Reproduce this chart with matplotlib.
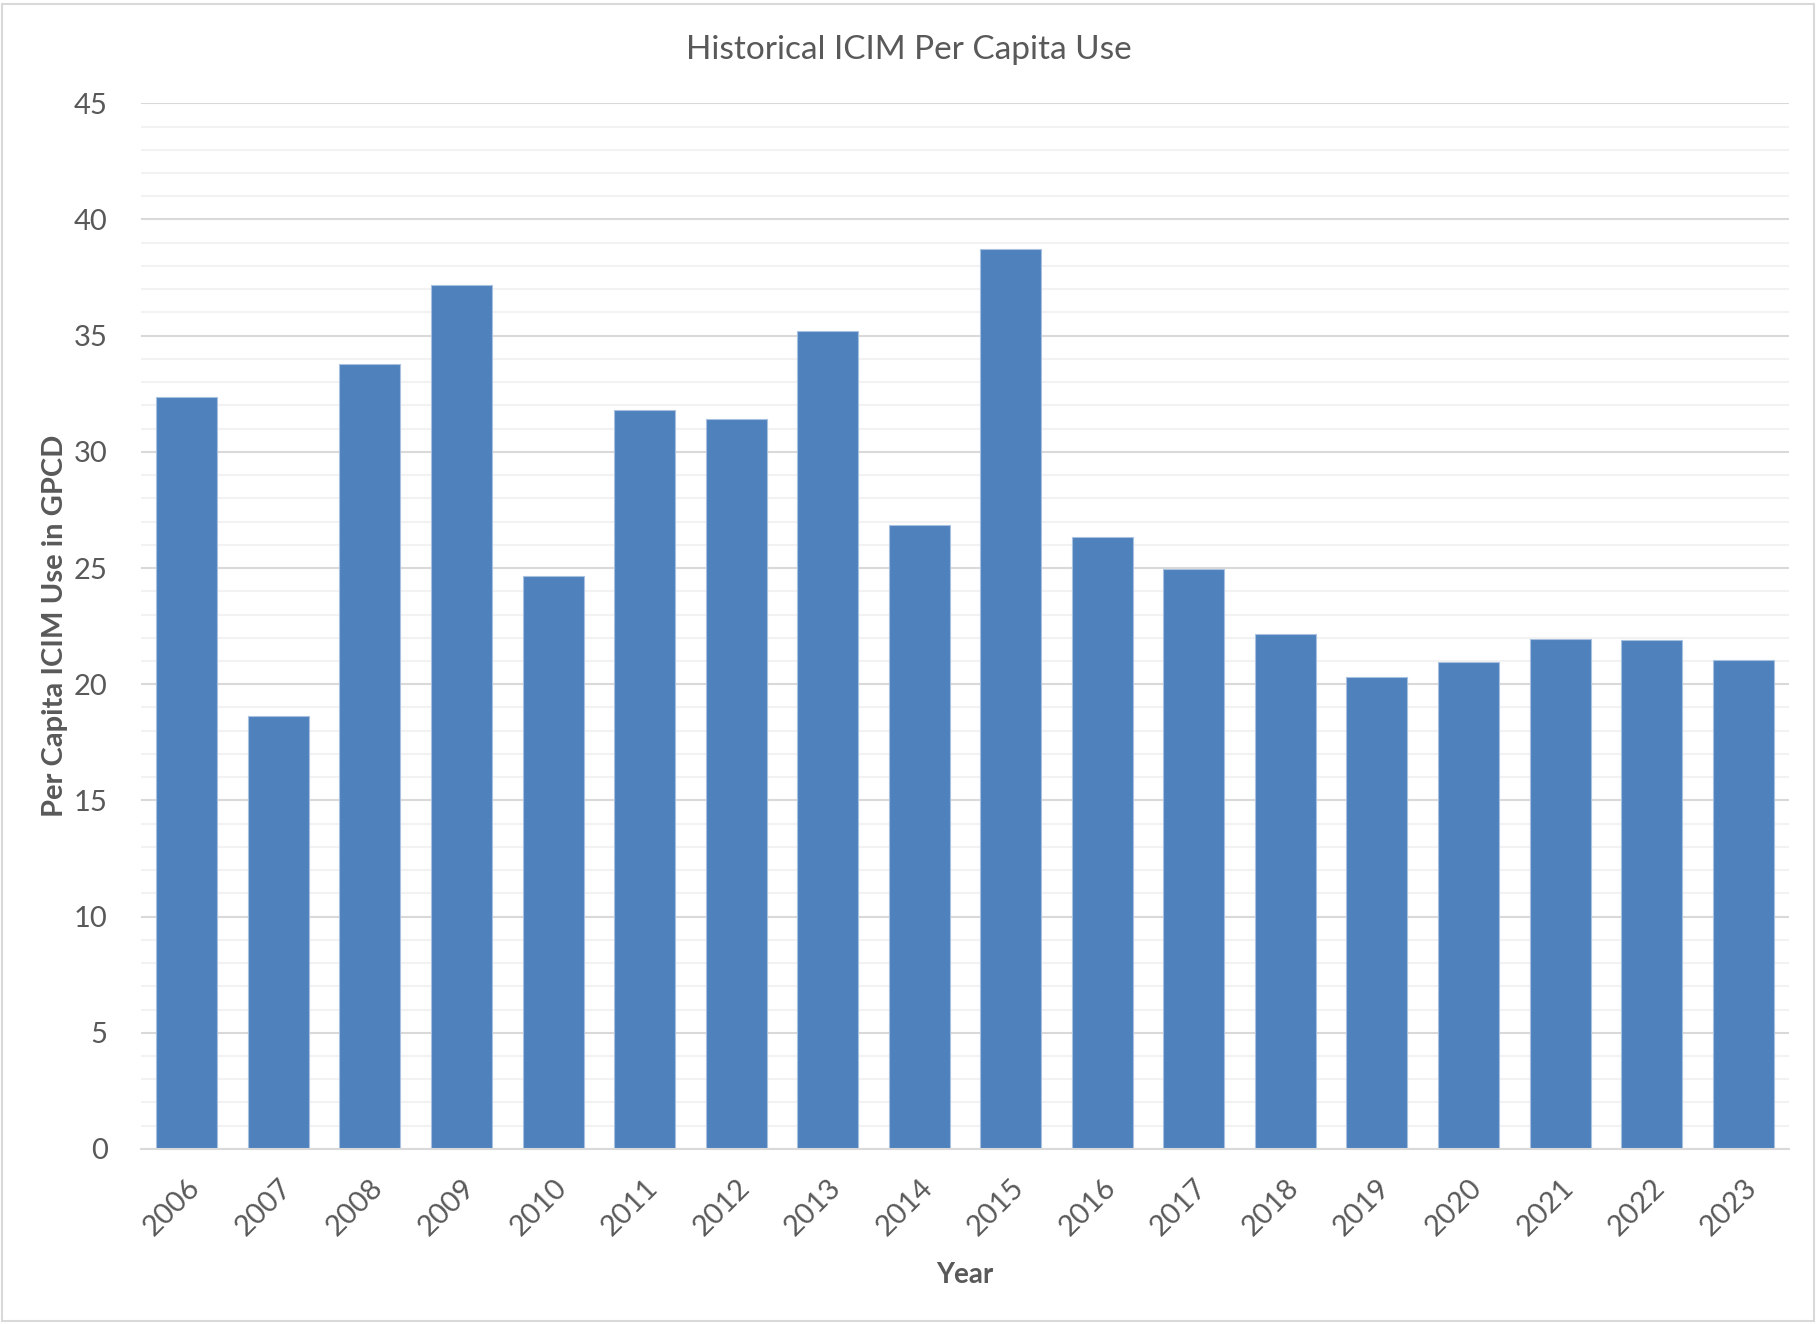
import matplotlib
matplotlib.use("Agg")
import matplotlib.pyplot as plt
from matplotlib.patches import Rectangle
from matplotlib.ticker import MultipleLocator

years = ["2006", "2007", "2008", "2009", "2010", "2011", "2012", "2013", "2014",
         "2015", "2016", "2017", "2018", "2019", "2020", "2021", "2022", "2023"]
gpcd = [32.35, 18.65, 33.8, 37.2, 24.65, 31.8, 31.4, 35.2, 26.85,
        38.75, 26.35, 24.95, 22.15, 20.3, 20.95, 21.95, 21.9, 21.05]

plt.rcParams['font.family'] = ['Lato', 'DejaVu Sans']
text_color = '#595959'

fig = plt.figure(figsize=(18.18, 13.24), dpi=100)
ax = fig.add_axes([0.0776, 0.1322, 0.9064, 0.7898])

x = range(len(years))
ax.bar(x, gpcd, width=0.667, color='#4f81bd', edgecolor='#a9c1e0',
       linewidth=0.8, zorder=3)

ax.set_xlim(-0.5, len(years) - 0.5)
ax.set_ylim(0, 45)
ax.yaxis.set_major_locator(MultipleLocator(5))
ax.yaxis.set_minor_locator(MultipleLocator(1))
ax.grid(axis='y', which='major', color='#d9d9d9', linewidth=1.5, zorder=0)
ax.grid(axis='y', which='minor', color='#f2f2f2', linewidth=1.5, zorder=0)

for s in ['top', 'right', 'left']:
    ax.spines[s].set_visible(False)
ax.spines['bottom'].set_color('#d9d9d9')
ax.spines['bottom'].set_linewidth(1.5)
ax.spines['bottom'].set_zorder(4)

ax.set_xticks(list(x))
ax.set_xticklabels(years, rotation=45, ha='right', rotation_mode='anchor')
ax.tick_params(axis='both', which='both', length=0, labelsize=21,
               labelcolor=text_color)
ax.tick_params(axis='x', pad=18)
ax.tick_params(axis='y', pad=24)

# title is centred on the whole chart, not on the plot area
fig.text(0.5, 0.962, "Historical ICIM Per Capita Use", fontsize=24,
         color=text_color, ha='center', va='center')
ax.set_xlabel("Year", fontsize=20, fontweight='bold', color=text_color,
              labelpad=16)
ax.set_ylabel("Per Capita ICIM Use in GPCD", fontsize=21, fontweight='bold',
              color=text_color, labelpad=4)

# light border round the whole chart
fig.patches.append(Rectangle((0.001, 0.002), 0.997, 0.995,
                             transform=fig.transFigure, fill=False,
                             edgecolor='#d9d9d9', linewidth=1.5))

fig.savefig("out.png", dpi=100)
